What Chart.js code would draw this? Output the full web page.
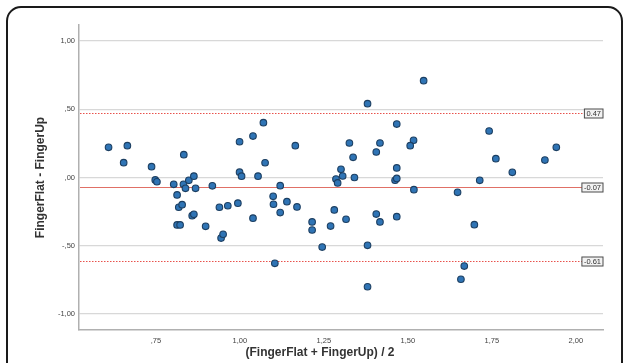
<!DOCTYPE html>
<html>
<head>
<meta charset="utf-8">
<script src="https://cdn.jsdelivr.net/npm/chart.js@4.4.1/dist/chart.umd.min.js"></script>
<style>
  html, body { margin: 0; padding: 0; background: #ffffff; }
  canvas { display: block; }
</style>
</head>
<body>
<canvas id="chart" width="625" height="363"></canvas>
<script>
// Bland-Altman: mean of the two measurements vs. their difference
const avgValues = [
  0.609, 0.665, 0.654, 0.737, 0.748, 0.753, 0.833, 0.803, 0.832, 0.838,
  0.848, 0.863, 0.868, 0.813, 0.818, 0.828, 0.858, 0.863, 0.813, 0.822,
  0.898, 0.918, 0.939, 0.964, 0.994, 0.944, 0.950, 1.039, 0.999, 1.039,
  1.070, 1.075, 0.999, 1.005, 1.054,
  1.547, 1.380, 1.467, 1.165, 1.326, 1.417, 1.517, 1.507, 1.406, 1.337,
  1.301, 1.306, 1.341, 1.286, 1.291, 1.467, 1.462, 1.467, 1.518, 1.120,
  1.099, 1.100, 1.120, 1.140, 1.170, 1.215, 1.215, 1.270, 1.281, 1.316,
  1.245, 1.104, 1.380, 1.380, 1.406, 1.417, 1.467,
  1.742, 1.942, 1.908, 1.762, 1.811, 1.714, 1.648, 1.698, 1.668, 1.658
];
const diffValues = [
  0.221, 0.233, 0.109, 0.079, -0.018, -0.031, 0.167, -0.050, -0.050, -0.079,
  -0.021, 0.010, -0.079, -0.128, -0.218, -0.199, -0.280, -0.270, -0.348, -0.348,
  -0.358, -0.061, -0.218, -0.207, -0.188, -0.444, -0.416, -0.298, 0.262, 0.304,
  0.402, 0.108, 0.039, 0.010, 0.010,
  0.710, 0.541, 0.392, 0.233, 0.253, 0.253, 0.273, 0.233, 0.187, 0.148,
  0.060, 0.011, 0.000, -0.011, -0.040, 0.070, -0.020, -0.007, -0.089, -0.060,
  -0.138, -0.196, -0.257, -0.177, -0.216, -0.326, -0.385, -0.356, -0.238, -0.306,
  -0.510, -0.629, -0.497, -0.801, -0.268, -0.326, -0.287,
  0.341, 0.221, 0.128, 0.138, 0.038, -0.021, -0.109, -0.346, -0.649, -0.746
];

// Mean difference and limits of agreement
const meanDiff = -0.07;
const upperLoA = 0.47;
const lowerLoA = -0.61;

const xTicks = [0.75, 1.00, 1.25, 1.50, 1.75, 2.00];
const xTickLabels = [',75', '1,00', '1,25', '1,50', '1,75', '2,00'];
const yTicks = [-1.00, -0.50, 0.00, 0.50, 1.00];
const yTickLabels = ['-1,00', '-,50', ',00', ',50', '1,00'];

const xTitle = '(FingerFlat + FingerUp) / 2';
const yTitle = 'FingerFlat - FingerUp';

const points = avgValues.map((x, i) => ({ x: x, y: diffValues[i] }));

const tickFont = { family: 'Liberation Sans', size: 7.5 };
const tickColor = '#444444';

// White page with a rounded black frame
const framePlugin = {
  id: 'frame',
  beforeDraw(chart) {
    const ctx = chart.ctx;
    ctx.save();
    ctx.fillStyle = '#ffffff';
    ctx.fillRect(0, 0, chart.width, chart.height);
    ctx.strokeStyle = '#1a1a1a';
    ctx.lineWidth = 2;
    ctx.beginPath();
    ctx.roundRect(7, 7, 615, 400, 14);
    ctx.stroke();
    ctx.restore();
  }
};

// Mean line (solid) and limits of agreement (dotted), with value boxes at the right
const refLinesPlugin = {
  id: 'refLines',
  beforeDatasetsDraw(chart) {
    const { ctx, chartArea, scales } = chart;
    const lines = [
      { v: upperLoA, dash: [1.5, 1.5], color: 'rgb(232, 82, 76)', width: 1.2 },
      { v: meanDiff, dash: [], color: 'rgb(224, 112, 102)', width: 1.1 },
      { v: lowerLoA, dash: [1.5, 1.5], color: 'rgb(232, 82, 76)', width: 1.2 }
    ];
    ctx.save();
    ctx.font = '7.5px "Liberation Sans"';
    lines.forEach(l => {
      const y = Math.round(scales.y.getPixelForValue(l.v)) + 0.5;
      const text = l.v.toFixed(2);
      const w = ctx.measureText(text).width + 4;
      const boxLeft = chartArea.right - w;

      ctx.strokeStyle = l.color;
      ctx.lineWidth = l.width;
      ctx.setLineDash(l.dash);
      ctx.beginPath();
      ctx.moveTo(chartArea.left + 1, y);
      ctx.lineTo(boxLeft, y);
      ctx.stroke();

      ctx.setLineDash([]);
      ctx.fillStyle = '#f2f2f2';
      ctx.fillRect(boxLeft, y - 4.5, w, 9);
      ctx.strokeStyle = '#4a4a4a';
      ctx.lineWidth = 1;
      ctx.strokeRect(boxLeft, y - 4.5, w, 9);
      ctx.fillStyle = '#333333';
      ctx.textAlign = 'center';
      ctx.textBaseline = 'middle';
      ctx.fillText(text, boxLeft + w / 2, y + 0.5);
    });
    ctx.restore();
  }
};

// Horizontal axis title
const xTitlePlugin = {
  id: 'xTitle',
  afterDraw(chart) {
    const ctx = chart.ctx;
    ctx.save();
    ctx.font = 'bold 12px "Liberation Sans"';
    ctx.fillStyle = '#333333';
    ctx.textAlign = 'center';
    ctx.textBaseline = 'middle';
    ctx.fillText(xTitle, 320, 353);
    ctx.restore();
  }
};

new Chart(document.getElementById('chart'), {
  type: 'scatter',
  data: {
    datasets: [{
      data: points,
      pointRadius: 3.3,
      pointHoverRadius: 3.3,
      pointBackgroundColor: '#2f74b5',
      pointBorderColor: '#1c3f62',
      pointBorderWidth: 1.1
    }]
  },
  options: {
    responsive: false,
    animation: false,
    devicePixelRatio: 1,
    layout: { padding: { left: 0, right: 22, top: 25, bottom: 0 } },
    plugins: {
      legend: { display: false },
      tooltip: { enabled: false }
    },
    scales: {
      x: {
        type: 'linear',
        min: 0.521,
        max: 2.081,
        afterBuildTicks(scale) { scale.ticks = xTicks.map(v => ({ value: v })); },
        afterFit(scale) { scale.height = 33; },
        grid: { display: false, drawTicks: false },
        border: { display: true, color: '#b0b0b0', width: 1.5 },
        ticks: {
          padding: 6,
          font: tickFont,
          color: tickColor,
          maxRotation: 0,
          autoSkip: false,
          callback(value) {
            const i = xTicks.findIndex(t => Math.abs(t - value) < 1e-6);
            return i >= 0 ? xTickLabels[i] : '';
          }
        }
      },
      y: {
        type: 'linear',
        min: -1.118,
        max: 1.118,
        afterBuildTicks(scale) { scale.ticks = yTicks.map(v => ({ value: v })); },
        afterFit(scale) { scale.width = 79; },
        grid: { color: '#d8d8d8', lineWidth: 1.3, drawTicks: false },
        border: { display: true, color: '#b0b0b0', width: 1.5 },
        title: {
          display: true,
          text: yTitle,
          color: '#333333',
          font: { family: 'Liberation Sans', size: 12, weight: 'bold' },
          padding: { top: 33, bottom: 0 }
        },
        ticks: {
          padding: 4,
          font: tickFont,
          color: tickColor,
          autoSkip: false,
          callback(value) {
            const i = yTicks.findIndex(t => Math.abs(t - value) < 1e-6);
            return i >= 0 ? yTickLabels[i] : '';
          }
        }
      }
    }
  },
  plugins: [framePlugin, refLinesPlugin, xTitlePlugin]
});
</script>
</body>
</html>
